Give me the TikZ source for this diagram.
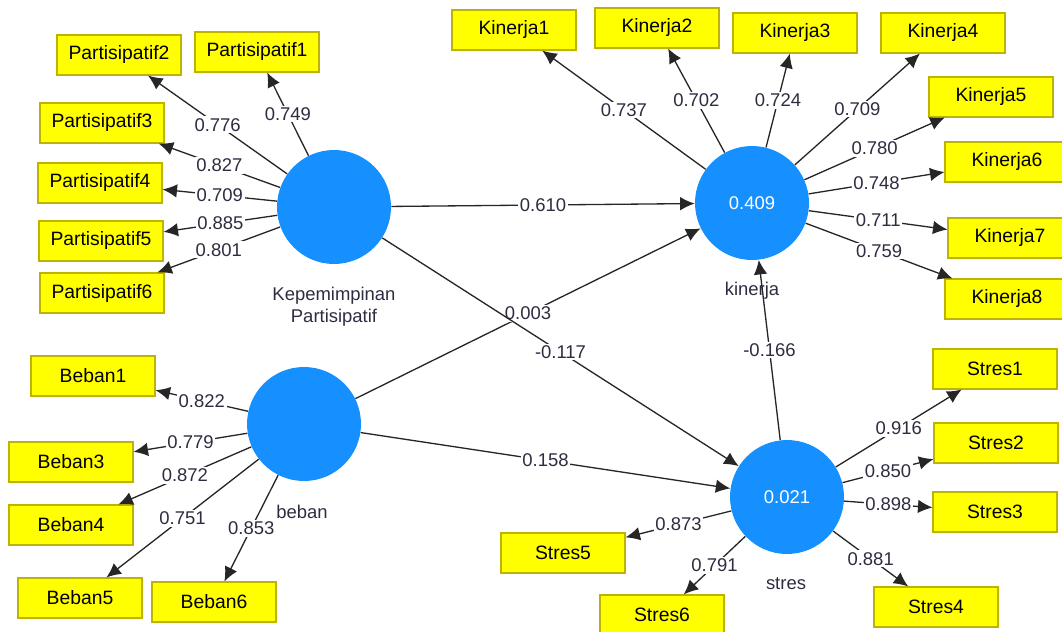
\documentclass[tikz,border=0pt]{standalone}
\usepackage{fontspec}
\setmainfont{Liberation Sans}
\usepackage{tikz}
\usetikzlibrary{arrows.meta}
\definecolor{lvblue}{RGB}{22,144,255}
\definecolor{indyellow}{RGB}{255,255,0}
\definecolor{indedge}{RGB}{190,180,0}
\definecolor{valtext}{RGB}{45,45,65}

\begin{document}
\begin{tikzpicture}[
x=0.02cm, y=-0.02cm,
font=\fontsize{10.5}{12.5}\selectfont,
  ind/.style = {rectangle, draw=indedge, fill=indyellow, line width=0.6pt,% indicator boxes
                minimum width=2.48cm, minimum height=0.8cm, inner sep=0pt,
                font=\fontsize{11}{13}\selectfont},
   lv/.style = {circle, fill=lvblue, text=white,% latent variables
                minimum size=2.28cm, inner sep=0pt},
  lbl/.style = {text=valtext, align=center},
  val/.style = {fill=white, text=valtext, inner sep=1pt},
  arr/.style = {draw=black!85, line width=0.75pt, -{Latex[length=2.9mm,width=2.7mm]}},
                        ]
\useasboundingbox (0,0) rectangle (1062,632);
\clip (0,0) rectangle (1062,632);
% latent variables
\node[lv] (KP)      at (334,207) {};
\node[lv] (kinerja) at (752,203) {0.409};
\node[lv] (beban)   at (304,424) {};
\node[lv] (stres)   at (787,497) {0.021};
\node[lbl] (KP-l)      at (334,307) {Kepemimpinan\\Partisipatif};
\node[lbl] (kinerja-l) at (752,291) {kinerja};
\node[lbl] (beban-l)   at (302,512) {beban};
\node[lbl] (stres-l)   at (786,584) {stres};
% indicators
\foreach \n/\x/\y in {1/257/52, 2/119/55, 3/102/123, 4/100/183, 5/101/241, 6/102/293}
    \node[ind] (P\n) at (\x,\y) {Partisipatif\n};
\foreach \n/\x/\y in {1/514/30, 2/657/28, 3/795/33, 4/943/33, 5/991/97, 6/1007/162, 7/1010/238, 8/1007/299}
    \node[ind] (K\n) at (\x,\y) {Kinerja\n};
\foreach \n/\x/\y in {1/93/376, 3/71/462, 4/71/525, 5/80/598, 6/214/602}
    \node[ind] (B\n) at (\x,\y) {Beban\n};
\foreach \n/\x/\y in {1/995/369, 2/996/443, 3/995/512, 4/936/607, 5/563/553, 6/662/615}
    \node[ind] (S\n) at (\x,\y) {Stres\n};
% outer loadings
\foreach \n/\v in {1/0.749, 2/0.776, 3/0.827, 4/0.709, 5/0.885, 6/0.801}
    \draw[arr] (KP) -- node[val] {\v} (P\n);
\foreach \n/\v in {1/0.737, 2/0.702, 3/0.724, 4/0.709, 5/0.780, 6/0.748, 7/0.711, 8/0.759}
    \draw[arr] (kinerja) -- node[val] {\v} (K\n);
\foreach \n/\v in {1/0.822, 3/0.779, 4/0.872, 5/0.751, 6/0.853}
    \draw[arr] (beban) -- node[val] {\v} (B\n);
\foreach \n/\v in {1/0.916, 2/0.850, 3/0.898, 4/0.881, 5/0.873, 6/0.791}
    \draw[arr] (stres) -- node[val] {\v} (S\n);
% path coefficients
\draw[arr] (KP) -- node[val] {0.610} (kinerja);
\draw[arr] (beban) -- node[val] {0.003} (kinerja);
\draw[arr] (KP) -- node[val] {-0.117} (stres);
\draw[arr] (beban) -- node[val] {0.158} (stres);
\draw[arr] (stres) -- node[val] {-0.166} (kinerja);
\end{tikzpicture}
\end{document}
